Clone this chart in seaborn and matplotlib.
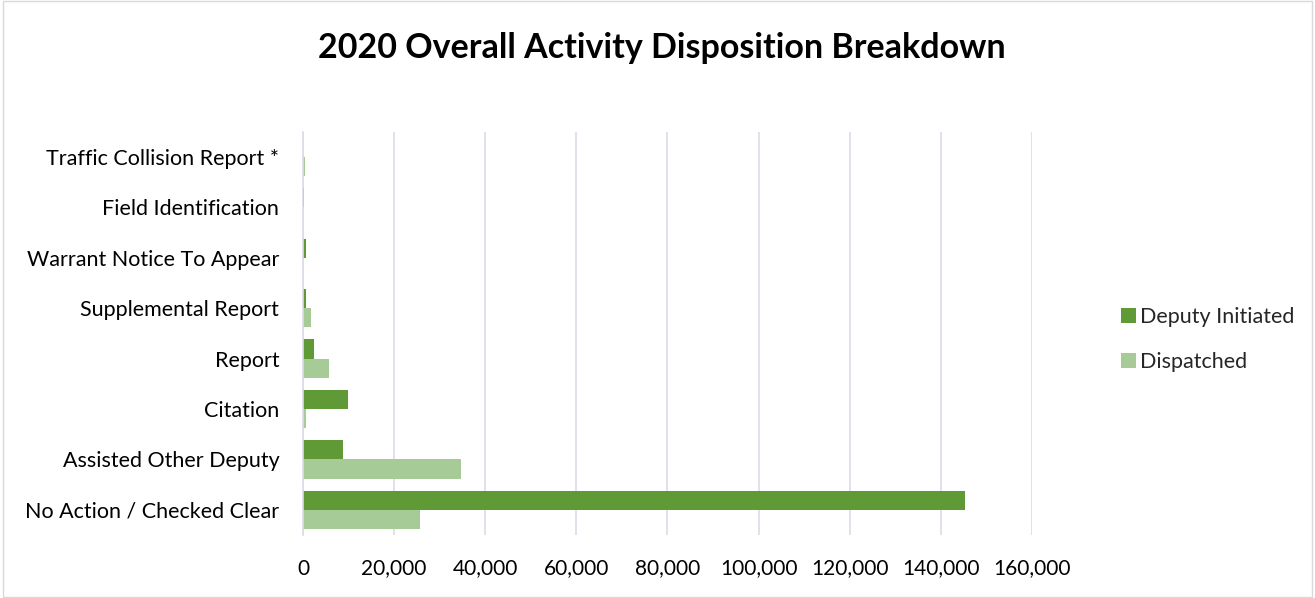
import matplotlib
matplotlib.use("Agg")
import matplotlib.pyplot as plt
import seaborn as sns
import pandas as pd
from matplotlib.patches import Rectangle
from matplotlib.ticker import FuncFormatter

categories = ["Traffic Collision Report *", "Field Identification", "Warrant Notice To Appear",
              "Supplemental Report", "Report", "Citation", "Assisted Other Deputy",
              "No Action / Checked Clear"]
deputy_initiated = [0, 150, 700, 700, 2400, 9900, 8800, 145400]
dispatched = [500, 80, 100, 1700, 5800, 750, 34600, 25600]
series_names = ["Deputy Initiated", "Dispatched"]
x_ticks = [0, 20000, 40000, 60000, 80000, 100000, 120000, 140000, 160000]

df = pd.DataFrame({
    "category": categories * 2,
    "value": deputy_initiated + dispatched,
    "series": [series_names[0]] * len(categories) + [series_names[1]] * len(categories),
})

sns.set_theme(style="white")
plt.rcParams['font.family'] = ['Lato', 'DejaVu Sans']

fig = plt.figure(figsize=(13.15, 5.98), dpi=100)
ax = fig.add_axes([0.2304, 0.1054, 0.5544, 0.674])

palette = {"Deputy Initiated": "#5f9a36", "Dispatched": "#a6cb96"}
sns.barplot(data=df, y="category", x="value", hue="series", order=categories,
            hue_order=series_names, palette=palette, orient="h", ax=ax,
            width=0.76, saturation=1, errorbar=None, linewidth=0)

ax.set_xlim(0, 160000)
ax.set_xticks(x_ticks)
ax.xaxis.set_major_formatter(FuncFormatter(lambda v, p: f"{int(v):,}"))
ax.grid(axis="x", color="#d9dde6", linewidth=1.2)
ax.set_axisbelow(True)
for s in ["top", "right", "bottom"]:
    ax.spines[s].set_visible(False)
ax.spines["left"].set_color("#d9dde6")
ax.spines["left"].set_linewidth(1.2)
ax.set_xlabel("")
ax.set_ylabel("")
ax.tick_params(axis="y", length=0, labelsize=15.5, colors="#000000", pad=17)
ax.tick_params(axis="x", length=0, labelsize=15, colors="#000000", pad=17)

leg = ax.legend(loc="center left", bbox_to_anchor=(1.095, 0.485), frameon=False,
                fontsize=15.5, handlelength=0.7, handleheight=0.7, handletextpad=0.2,
                labelspacing=1.2)

fig.text(0.503, 0.92, "2020 Overall Activity Disposition Breakdown", ha="center", va="center",
         fontsize=24.5, fontweight="bold", color="#000000")

fig.patches.append(Rectangle((0.002, 0.002), 0.996, 0.996, transform=fig.transFigure,
                             fill=False, edgecolor="#d9d9d9", linewidth=1))

fig.savefig("out.png", dpi=100)
